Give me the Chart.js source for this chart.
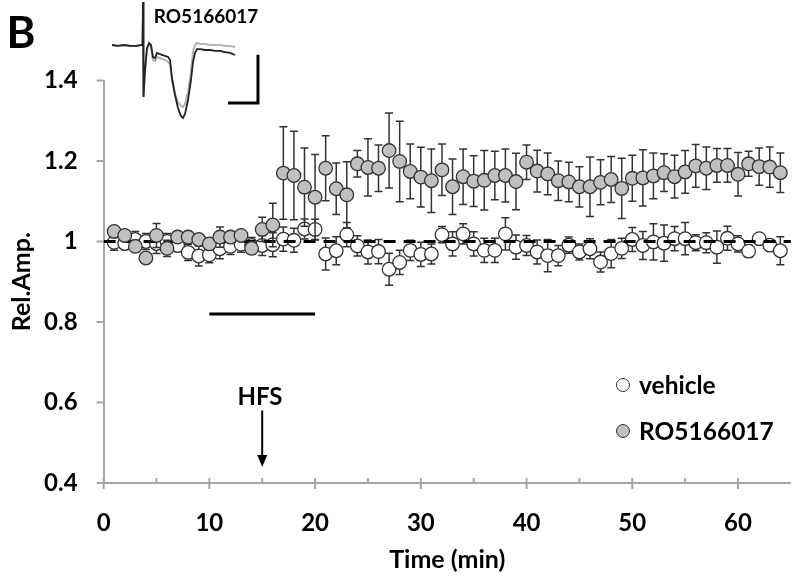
<!DOCTYPE html>
<html>
<head>
<meta charset="utf-8">
<script src="https://cdn.jsdelivr.net/npm/chart.js@4.4.0/dist/chart.umd.min.js"></script>
<style>
  html, body { margin: 0; padding: 0; background: #fff; }
  #wrap { position: relative; width: 799px; height: 576px; overflow: hidden;
          font-family: Lato, "Open Sans", sans-serif; font-weight: bold; color: #000; }
  canvas { position: absolute; left: 0; top: 0; }
  #inset { left: 100px; top: 0; }
  .lbl { position: absolute; white-space: nowrap; line-height: 1; transform: translate(-50%, -50%); }
  .leg { position: absolute; white-space: nowrap; line-height: 1; transform: translateY(-50%); font-size: 24.5px; }
  .dot { position: absolute; width: 12px; height: 12px; border-radius: 50%;
         border: 1.3px solid #333; transform: translate(-50%, -50%); }
</style>
</head>
<body>
<div id="wrap">
  <canvas id="main" width="799" height="576"></canvas>
  <canvas id="inset" width="180" height="125"></canvas>
  <div class="lbl" style="left:21px; top:31px; font-size:44px;">B</div>
  <div class="lbl" style="left:206px; top:15px; font-size:19px;">RO5166017</div>
  <div class="lbl" style="left:260px; top:396px; font-size:24px;">HFS</div>
  <span class="dot" style="left:623px; top:385px; background:#fff;"></span>
  <div class="leg" style="left:639px; top:385px;">vehicle</div>
  <span class="dot" style="left:623px; top:431px; background:#c0c0c0;"></span>
  <div class="leg" style="left:639px; top:431px;">RO5166017</div>
</div>
<script>
// time points (min)
const minutes = [1,2,3,4,5,6,7,8,9,10,11,12,13,14,15,16,17,18,19,20,21,22,23,24,25,26,27,28,29,30,31,32,
  33,34,35,36,37,38,39,40,41,42,43,44,45,46,47,48,49,50,51,52,53,54,55,56,57,58,59,60,61,62,63,64];

const vehicleMean = [0.998,0.995,1.005,1.000,0.995,1.000,0.990,0.973,0.964,0.967,
  0.982,0.988,0.993,0.990,0.990,0.992,1.006,1.003,1.031,1.030,
  0.969,0.977,1.017,0.989,0.974,0.975,0.931,0.948,0.978,0.968,
  0.969,1.017,0.994,1.019,0.994,0.978,0.978,1.019,0.986,0.990,
  0.974,0.965,0.965,0.991,0.974,0.982,0.949,0.970,0.983,1.005,
  0.990,0.999,0.996,1.007,1.007,0.997,0.997,0.986,1.008,0.994,
  0.976,1.007,0.991,0.977];
const vehicleSem = [0.02,0.015,0.02,0.02,0.025,0.02,0.015,0.02,0.025,0.02,
  0.025,0.02,0.02,0.02,0.025,0.03,0.03,0.03,0.025,0.025,
  0.04,0.035,0.03,0.025,0.03,0.03,0.04,0.03,0.025,0.03,
  0.025,0.02,0.03,0.025,0.03,0.03,0.03,0.04,0.03,0.025,
  0.03,0.04,0.025,0.02,0.02,0.025,0.025,0.035,0.025,0.03,
  0.035,0.045,0.045,0.03,0.04,0.02,0.025,0.04,0.03,0.02,
  0.015,0.01,0.01,0.035];

const roMean = [1.025,1.015,0.988,0.959,1.015,0.983,1.011,1.011,1.005,0.994,
  1.011,1.011,1.015,0.983,1.030,1.041,1.170,1.164,1.135,1.110,
  1.182,1.131,1.116,1.193,1.184,1.182,1.226,1.199,1.174,1.160,
  1.151,1.178,1.136,1.161,1.150,1.152,1.164,1.164,1.149,1.197,
  1.175,1.168,1.151,1.148,1.136,1.136,1.147,1.154,1.132,1.157,
  1.158,1.163,1.171,1.161,1.173,1.188,1.182,1.189,1.189,1.167,
  1.193,1.186,1.185,1.171];
const roSem = [0.01,0.01,0.015,0.01,0.03,0.02,0.01,0.01,0.01,0.01,
  0.025,0.01,0.01,0.01,0.03,0.054,0.115,0.11,0.097,0.106,
  0.081,0.064,0.082,0.033,0.071,0.058,0.093,0.10,0.068,0.074,
  0.079,0.064,0.069,0.069,0.063,0.074,0.06,0.066,0.07,0.043,
  0.052,0.052,0.049,0.049,0.05,0.074,0.056,0.057,0.075,0.057,
  0.07,0.057,0.047,0.053,0.053,0.053,0.053,0.042,0.042,0.054,
  0.031,0.046,0.05,0.049];

// reference line, drug application bar, HFS arrow
const baselineX = [0, 65];
const baselineY = [1, 1];
const drugX = [10, 20];
const drugY = [0.82, 0.82];
const hfsTime = 15;
const hfsArrow = [0.58, 0.44];

const xMajorTicks = [0, 10, 20, 30, 40, 50, 60];
const xMinorTicks = [5, 15, 25, 35, 45, 55];

// inset: example field potential traces (ms, mV)
const traceT = [2.0,3.0,4.0,5.0,6.0,7.08,7.17,7.25,7.5,7.83,8.17,8.5,8.83,9.17,9.5,10.0,10.83,11.33,11.67,
  12.0,12.5,13.0,13.5,13.83,14.17,14.67,15.17,15.5,15.83,16.17,16.67,17.5,18.33,19.17,20.0,20.83,21.67,22.5];
const traceAfter = [-0.018,-0.028,-0.018,-0.028,-0.028,-0.018,0.429,-0.559,-0.278,-0.049,0.003,-0.018,-0.143,
  -0.153,-0.101,-0.112,-0.132,-0.143,-0.174,-0.361,-0.538,-0.673,-0.756,-0.777,-0.736,-0.590,-0.382,-0.195,
  -0.101,-0.060,-0.060,-0.070,-0.070,-0.080,-0.080,-0.091,-0.101,-0.122];
const traceBefore = [-0.018,-0.028,-0.018,-0.028,-0.028,-0.018,0.429,-0.559,-0.299,-0.070,-0.018,-0.039,-0.174,
  -0.184,-0.143,-0.153,-0.174,-0.195,-0.216,-0.382,-0.528,-0.611,-0.652,-0.663,-0.632,-0.507,-0.299,-0.091,
  -0.018,0.003,-0.008,-0.008,-0.018,-0.018,-0.018,-0.028,-0.028,-0.039];
const scaleBarT = [21.33, 26.33, 26.33];
const scaleBarV = [-0.62, -0.62, -0.12];

const pts = (xs, ys) => xs.map((x, i) => ({ x: x, y: ys[i] }));

const errorBars = {
  id: "errorBars",
  beforeDatasetDraw(chart, args) {
    const ds = chart.data.datasets[args.index];
    if (!ds.errors) return;
    const xs = chart.scales.x, ys = chart.scales.y, ctx = chart.ctx;
    ctx.save();
    ctx.strokeStyle = "#333";
    ctx.lineWidth = 1.5;
    ds.data.forEach((p, i) => {
      const px = xs.getPixelForValue(p.x);
      const top = ys.getPixelForValue(p.y + ds.errors[i]);
      const bot = ys.getPixelForValue(p.y - ds.errors[i]);
      ctx.beginPath();
      ctx.moveTo(px, top); ctx.lineTo(px, bot);
      ctx.moveTo(px - 4, top); ctx.lineTo(px + 4, top);
      ctx.moveTo(px - 4, bot); ctx.lineTo(px + 4, bot);
      ctx.stroke();
    });
    ctx.restore();
  }
};

const axisTicks = {
  id: "axisTicks",
  beforeDatasetsDraw(chart) {
    const xs = chart.scales.x, ys = chart.scales.y, ctx = chart.ctx;
    const y0 = ys.bottom, x0 = xs.left;
    ctx.save();
    ctx.strokeStyle = "#a6a6a6";
    ctx.lineWidth = 2;
    ctx.beginPath();
    xMajorTicks.forEach(v => {
      const px = xs.getPixelForValue(v);
      ctx.moveTo(px, y0 - 5); ctx.lineTo(px, y0 + 6);
    });
    xMinorTicks.forEach(v => {
      const px = xs.getPixelForValue(v);
      ctx.moveTo(px, y0 - 5); ctx.lineTo(px, y0);
    });
    ys.ticks.forEach(t => {
      const py = ys.getPixelForValue(t.value);
      ctx.moveTo(x0 - 7, py); ctx.lineTo(x0, py);
    });
    ctx.stroke();
    ctx.restore();
  },
  afterDatasetsDraw(chart) {
    // HFS arrow
    const xs = chart.scales.x, ys = chart.scales.y, ctx = chart.ctx;
    const px = xs.getPixelForValue(hfsTime);
    const top = ys.getPixelForValue(hfsArrow[0]);
    const tip = ys.getPixelForValue(hfsArrow[1]);
    ctx.save();
    ctx.strokeStyle = "#000";
    ctx.fillStyle = "#000";
    ctx.lineWidth = 2;
    ctx.beginPath();
    ctx.moveTo(px, top); ctx.lineTo(px, tip - 10);
    ctx.stroke();
    ctx.beginPath();
    ctx.moveTo(px - 5, tip - 12); ctx.lineTo(px + 5, tip - 12); ctx.lineTo(px, tip);
    ctx.closePath();
    ctx.fill();
    ctx.restore();
  }
};

const tickFont = { family: "Lato, 'Open Sans', sans-serif", size: 24, weight: "bold" };
const titleFont = { family: "Lato, 'Open Sans', sans-serif", size: 25, weight: "bold" };

new Chart(document.getElementById("main").getContext("2d"), {
  type: "scatter",
  data: {
    datasets: [
      {
        label: "RO5166017",
        data: pts(minutes, roMean),
        errors: roSem,
        backgroundColor: "#c0c0c0",
        borderColor: "#333",
        borderWidth: 1.3,
        pointRadius: 6.8,
        order: 0,
      },
      {
        label: "baseline",
        data: pts(baselineX, baselineY),
        showLine: true,
        borderColor: "#000",
        borderWidth: 3,
        borderDash: [12, 8],
        pointRadius: 0,
        order: 1,
      },
      {
        label: "vehicle",
        data: pts(minutes, vehicleMean),
        errors: vehicleSem,
        backgroundColor: "#fff",
        borderColor: "#333",
        borderWidth: 1.3,
        pointRadius: 6.8,
        order: 2,
      },
      {
        label: "drug",
        data: pts(drugX, drugY),
        showLine: true,
        borderColor: "#000",
        borderWidth: 3,
        pointRadius: 0,
        order: 3,
      },
    ],
  },
  options: {
    responsive: false,
    animation: false,
    events: [],
    layout: { padding: { top: 80.5, right: 1.2, left: 0, bottom: 0 } },
    plugins: { legend: { display: false }, tooltip: { enabled: false } },
    scales: {
      x: {
        type: "linear",
        min: 0,
        max: 65,
        grid: { display: false, drawTicks: false },
        border: { display: true, color: "#a6a6a6", width: 2 },
        ticks: {
          stepSize: 10,
          includeBounds: false,
          font: tickFont,
          color: "#000",
          padding: 26,
          callback: v => (v % 10 === 0 ? String(v) : ""),
        },
        title: { display: true, text: "Time (min)", font: titleFont, color: "#000", padding: { top: 4, bottom: 1 } },
        afterFit: s => { s.height = 93; },
      },
      y: {
        min: 0.4,
        max: 1.4,
        grid: { display: false, drawTicks: false },
        border: { display: true, color: "#a6a6a6", width: 2 },
        ticks: {
          stepSize: 0.2,
          font: tickFont,
          color: "#000",
          padding: 26,
          callback: v => String(Math.round(v * 10) / 10),
        },
        title: { display: true, text: "Rel.Amp.", font: titleFont, color: "#000", padding: { top: 7, bottom: 4 } },
        afterFit: s => { s.width = 103.6; },
      },
    },
  },
  plugins: [errorBars, axisTicks],
});

new Chart(document.getElementById("inset").getContext("2d"), {
  type: "scatter",
  data: {
    datasets: [
      { data: pts(traceT, traceBefore), showLine: true, borderColor: "#b4b4b4", borderWidth: 2, pointRadius: 0, order: 2 },
      { data: pts(traceT, traceAfter), showLine: true, borderColor: "#222", borderWidth: 1.8, pointRadius: 0, order: 1 },
      { data: pts(scaleBarT, scaleBarV), showLine: true, borderColor: "#000", borderWidth: 3, pointRadius: 0, order: 0 },
    ],
  },
  options: {
    responsive: false,
    animation: false,
    events: [],
    layout: { padding: 0 },
    plugins: { legend: { display: false }, tooltip: { enabled: false } },
    scales: {
      x: { type: "linear", display: false, min: 0, max: 30 },
      y: { display: false, min: -0.85, max: 0.45 },
    },
  },
});
</script>
</body>
</html>
